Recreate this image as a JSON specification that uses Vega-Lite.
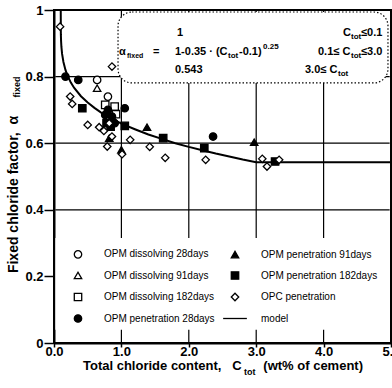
{
  "$schema": "https://vega.github.io/schema/vega-lite/v6.json",
  "width": 337,
  "height": 333,
  "autosize": {"type": "none"},
  "padding": {"left": 54, "top": 10, "right": 1, "bottom": 45},
  "background": "white",
  "config": {
    "font": "Liberation Sans",
    "view": {"stroke": "black", "strokeWidth": 2},
    "axis": {"domainColor": "black", "domainWidth": 2, "tickColor": "black", "tickWidth": 1.5, "labelColor": "black", "labelFont": "Liberation Sans", "labelFontSize": 13, "labelFontWeight": "bold", "titleColor": "black", "titleFont": "Liberation Sans", "titleFontSize": 13, "titleFontWeight": "bold", "grid": false, "zindex": 1},
    "legend": {"orient": "none", "legendX": 19, "legendY": 239, "columns": 2, "columnPadding": 5, "rowPadding": 7.5, "labelFont": "Liberation Sans", "labelFontSize": 10, "labelColor": "black", "labelOffset": 21, "symbolStrokeWidth": 1.3, "symbolSize": 55, "padding": 0, "labelLimit": 200}
  },
  "datasets": {
    "grid": [
      {"x": 0.02, "x2": 4.98, "y": 0.4, "y2": 0.4},
      {"x": 0.02, "x2": 4.98, "y": 0.6, "y2": 0.6},
      {"x": 0.02, "x2": 4.98, "y": 0.8, "y2": 0.8},
      {"x": 1, "x2": 1, "y": 0, "y2": 1},
      {"x": 2, "x2": 2, "y": 0, "y2": 1},
      {"x": 3, "x2": 3, "y": 0, "y2": 1},
      {"x": 4, "x2": 4, "y": 0, "y2": 1}
    ],
    "legendbox": [{"x": 0.02, "x2": 4.98, "y": 0.04, "y2": 0.315}],
    "formulabox": [{"x": 0.95, "x2": 4.955, "y": 0.781, "y2": 0.994}],
    "model": [
      {"c": 0, "a": 1}, {"c": 0.1, "a": 1}, {"c": 0.102, "a": 0.926}, {"c": 0.105, "a": 0.907},
      {"c": 0.11, "a": 0.889}, {"c": 0.12, "a": 0.868}, {"c": 0.14, "a": 0.844}, {"c": 0.17, "a": 0.82},
      {"c": 0.2, "a": 0.803}, {"c": 0.25, "a": 0.782}, {"c": 0.3, "a": 0.766}, {"c": 0.4, "a": 0.741},
      {"c": 0.5, "a": 0.722}, {"c": 0.6, "a": 0.706}, {"c": 0.7, "a": 0.692}, {"c": 0.8, "a": 0.68},
      {"c": 0.9, "a": 0.669}, {"c": 1.0, "a": 0.659}, {"c": 1.2, "a": 0.642}, {"c": 1.4, "a": 0.626},
      {"c": 1.6, "a": 0.613}, {"c": 1.8, "a": 0.6}, {"c": 2.0, "a": 0.589}, {"c": 2.2, "a": 0.579},
      {"c": 2.4, "a": 0.569}, {"c": 2.6, "a": 0.56}, {"c": 2.8, "a": 0.551}, {"c": 3.0, "a": 0.543},
      {"c": 5.0, "a": 0.543}
    ],
    "points": [
      {"c": 0.64, "a": 0.79, "s": "OPM dissolving 28days"},
      {"c": 0.80, "a": 0.74, "s": "OPM dissolving 28days"},
      {"c": 0.64, "a": 0.765, "s": "OPM dissolving 91days"},
      {"c": 0.76, "a": 0.715, "s": "OPM dissolving 182days"},
      {"c": 0.90, "a": 0.71, "s": "OPM dissolving 182days"},
      {"c": 0.92, "a": 0.687, "s": "OPM dissolving 182days"},
      {"c": 0.17, "a": 0.80, "s": "OPM penetration 28days"},
      {"c": 0.36, "a": 0.79, "s": "OPM penetration 28days"},
      {"c": 1.05, "a": 0.705, "s": "OPM penetration 28days"},
      {"c": 0.80, "a": 0.70, "s": "OPM penetration 28days"},
      {"c": 0.86, "a": 0.68, "s": "OPM penetration 28days"},
      {"c": 0.90, "a": 0.66, "s": "OPM penetration 28days"},
      {"c": 0.76, "a": 0.685, "s": "OPM penetration 28days"},
      {"c": 2.36, "a": 0.62, "s": "OPM penetration 28days"},
      {"c": 1.38, "a": 0.648, "s": "OPM penetration 91days"},
      {"c": 2.97, "a": 0.603, "s": "OPM penetration 91days"},
      {"c": 0.82, "a": 0.615, "s": "OPM penetration 91days"},
      {"c": 1.0, "a": 0.58, "s": "OPM penetration 91days"},
      {"c": 0.42, "a": 0.705, "s": "OPM penetration 182days"},
      {"c": 1.05, "a": 0.652, "s": "OPM penetration 182days"},
      {"c": 1.62, "a": 0.615, "s": "OPM penetration 182days"},
      {"c": 2.23, "a": 0.585, "s": "OPM penetration 182days"},
      {"c": 3.28, "a": 0.545, "s": "OPM penetration 182days"},
      {"c": 0.84, "a": 0.65, "s": "OPM penetration 182days"},
      {"c": 0.78, "a": 0.66, "s": "OPM penetration 182days"},
      {"c": 0.09, "a": 0.95, "s": "OPC penetration"},
      {"c": 0.86, "a": 0.83, "s": "OPC penetration"},
      {"c": 0.24, "a": 0.74, "s": "OPC penetration"},
      {"c": 0.27, "a": 0.718, "s": "OPC penetration"},
      {"c": 0.50, "a": 0.655, "s": "OPC penetration"},
      {"c": 0.67, "a": 0.648, "s": "OPC penetration"},
      {"c": 0.74, "a": 0.637, "s": "OPC penetration"},
      {"c": 0.86, "a": 0.62, "s": "OPC penetration"},
      {"c": 0.79, "a": 0.59, "s": "OPC penetration"},
      {"c": 1.01, "a": 0.567, "s": "OPC penetration"},
      {"c": 1.13, "a": 0.61, "s": "OPC penetration"},
      {"c": 1.42, "a": 0.589, "s": "OPC penetration"},
      {"c": 1.65, "a": 0.556, "s": "OPC penetration"},
      {"c": 2.25, "a": 0.55, "s": "OPC penetration"},
      {"c": 3.09, "a": 0.553, "s": "OPC penetration"},
      {"c": 3.16, "a": 0.53, "s": "OPC penetration"},
      {"c": 3.34, "a": 0.55, "s": "OPC penetration"},
      {"c": 0.82, "a": 0.66, "s": "OPC penetration"}
    ],
    "mainText": [
      {"x": 1.825, "y": 0.931, "t": "1"},
      {"x": 4.288, "y": 0.931, "t": "C"},
      {"x": 4.555, "y": 0.931, "t": "≤0.1"},
      {"x": 0.964, "y": 0.874, "t": "α"},
      {"x": 1.469, "y": 0.874, "t": "="},
      {"x": 1.795, "y": 0.874, "t": "1-0.35 · (C"},
      {"x": 2.745, "y": 0.874, "t": "-0.1)"},
      {"x": 3.917, "y": 0.874, "t": "0.1≤ C"},
      {"x": 4.555, "y": 0.874, "t": "≤3.0"},
      {"x": 1.795, "y": 0.82, "t": "0.543"},
      {"x": 3.724, "y": 0.82, "t": "3.0≤ C"}
    ],
    "subText": [
      {"x": 4.407, "y": 0.919, "t": "tot"},
      {"x": 2.582, "y": 0.862, "t": "tot"},
      {"x": 4.407, "y": 0.862, "t": "tot"},
      {"x": 4.214, "y": 0.808, "t": "tot"}
    ],
    "fixedText": [
      {"x": 1.083, "y": 0.862, "t": "fixed"}
    ],
    "supText": [
      {"x": 3.101, "y": 0.889, "t": "0.25"}
    ],
    "xTitleSub": [
      {"x": 2.82, "y": -0.087, "t": "tot"}
    ],
    "yTitleSub": [
      {"x": -0.549, "y": 0.769, "t": "fixed"}
    ]
  },
  "layer": [
    {
      "data": {"name": "grid"},
      "mark": {"type": "rule", "color": "black", "strokeWidth": 1.2},
      "encoding": {
        "x": {"field": "x", "type": "quantitative", "scale": {"domain": [0, 5], "nice": false},
          "axis": {"values": [0, 1, 2, 3, 4, 5], "tickSize": 4, "labelPadding": -2, "labelFlush": false, "labelOverlap": false, "title": "Total chloride content,\u00a0\u00a0\u00a0C\u00a0\u00a0\u00a0\u00a0\u00a0\u00a0(wt% of cement)", "titlePadding": 1}},
        "x2": {"field": "x2"},
        "y": {"field": "y", "type": "quantitative", "scale": {"domain": [0, 1], "nice": false},
          "axis": {"values": [0, 0.2, 0.4, 0.6, 0.8, 1], "labelExpr": "datum.value == 0 ? '0' : datum.value == 1 ? '1' : format(datum.value, '.1f')", "tickSize": 10, "labelPadding": 1, "labelFlush": false, "labelOverlap": false, "title": "Fixed chloride factor,\u00a0\u00a0α", "titleX": -41, "titleY": 184, "titleBaseline": "middle", "titleAngle": -90, "titleFontSize": 14}},
        "y2": {"field": "y2"}
      }
    },
    {
      "data": {"name": "legendbox"},
      "mark": {"type": "rect", "fill": "white", "strokeWidth": 0},
      "encoding": {"x": {"field": "x", "type": "quantitative"}, "x2": {"field": "x2"}, "y": {"field": "y", "type": "quantitative"}, "y2": {"field": "y2"}}
    },
    {
      "data": {"name": "formulabox"},
      "mark": {"type": "rect", "fill": "white", "stroke": "black", "strokeWidth": 1.2, "strokeDash": [1.5, 2], "cornerRadius": 14},
      "encoding": {"x": {"field": "x", "type": "quantitative"}, "x2": {"field": "x2"}, "y": {"field": "y", "type": "quantitative"}, "y2": {"field": "y2"}}
    },
    {
      "data": {"name": "model"},
      "mark": {"type": "line", "color": "black", "strokeWidth": 2},
      "encoding": {"x": {"field": "c", "type": "quantitative"}, "y": {"field": "a", "type": "quantitative"}}
    },
    {
      "data": {"name": "points"},
      "mark": {"type": "point", "filled": true, "strokeWidth": 1.3, "size": 55, "opacity": 1},
      "encoding": {
        "x": {"field": "c", "type": "quantitative"},
        "y": {"field": "a", "type": "quantitative"},
        "shape": {"field": "s", "type": "nominal", "title": null,
          "scale": {"domain": ["OPM dissolving 28days", "OPM dissolving 91days", "OPM dissolving 182days", "OPM penetration 28days", "OPM penetration 91days", "OPM penetration 182days", "OPC penetration", "model"],
            "range": ["circle", "triangle-up", "square", "circle", "triangle-up", "square", "diamond", "M-3.2,0L3.2,0"]}},
        "fill": {"field": "s", "type": "nominal", "title": null,
          "scale": {"domain": ["OPM dissolving 28days", "OPM dissolving 91days", "OPM dissolving 182days", "OPM penetration 28days", "OPM penetration 91days", "OPM penetration 182days", "OPC penetration", "model"],
            "range": ["white", "white", "white", "black", "black", "black", "white", "black"]}},
        "stroke": {"field": "s", "type": "nominal", "title": null,
          "scale": {"domain": ["OPM dissolving 28days", "OPM dissolving 91days", "OPM dissolving 182days", "OPM penetration 28days", "OPM penetration 91days", "OPM penetration 182days", "OPC penetration", "model"],
            "range": ["black", "black", "black", "black", "black", "black", "black", "black"]}}
      }
    },
    {
      "data": {"name": "mainText"},
      "mark": {"type": "text", "align": "left", "baseline": "middle", "font": "Liberation Sans", "fontSize": 11, "fontWeight": "bold", "color": "black"},
      "encoding": {"x": {"field": "x", "type": "quantitative"}, "y": {"field": "y", "type": "quantitative"}, "text": {"field": "t"}}
    },
    {
      "data": {"name": "subText"},
      "mark": {"type": "text", "align": "left", "baseline": "middle", "font": "Liberation Sans", "fontSize": 8, "fontWeight": "bold", "color": "black"},
      "encoding": {"x": {"field": "x", "type": "quantitative"}, "y": {"field": "y", "type": "quantitative"}, "text": {"field": "t"}}
    },
    {
      "data": {"name": "fixedText"},
      "mark": {"type": "text", "align": "left", "baseline": "middle", "font": "Liberation Sans", "fontSize": 7, "fontWeight": "bold", "color": "black"},
      "encoding": {"x": {"field": "x", "type": "quantitative"}, "y": {"field": "y", "type": "quantitative"}, "text": {"field": "t"}}
    },
    {
      "data": {"name": "supText"},
      "mark": {"type": "text", "align": "left", "baseline": "middle", "font": "Liberation Sans", "fontSize": 8, "fontWeight": "bold", "color": "black"},
      "encoding": {"x": {"field": "x", "type": "quantitative"}, "y": {"field": "y", "type": "quantitative"}, "text": {"field": "t"}}
    },
    {
      "data": {"name": "xTitleSub"},
      "mark": {"type": "text", "align": "left", "baseline": "middle", "font": "Liberation Sans", "fontSize": 9, "fontWeight": "bold", "color": "black"},
      "encoding": {"x": {"field": "x", "type": "quantitative"}, "y": {"field": "y", "type": "quantitative"}, "text": {"field": "t"}}
    },
    {
      "data": {"name": "yTitleSub"},
      "mark": {"type": "text", "align": "center", "baseline": "middle", "angle": 270, "font": "Liberation Sans", "fontSize": 9, "fontWeight": "bold", "color": "black"},
      "encoding": {"x": {"field": "x", "type": "quantitative"}, "y": {"field": "y", "type": "quantitative"}, "text": {"field": "t"}}
    }
  ]
}
